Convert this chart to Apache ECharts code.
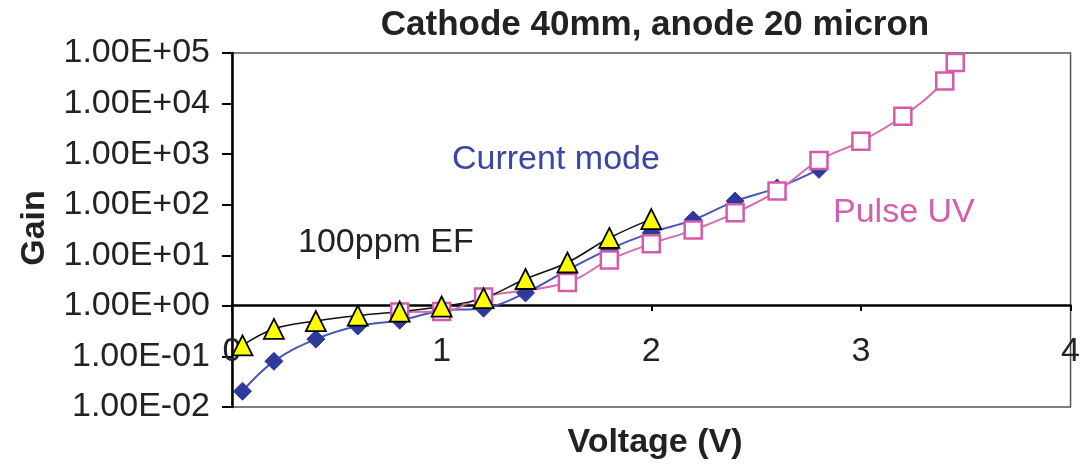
<!DOCTYPE html>
<html>
<head>
<meta charset="utf-8">
<script src="https://cdn.jsdelivr.net/npm/echarts@6/dist/echarts.min.js"></script>
<style>
html,body{margin:0;padding:0;background:#fff;}
#c{width:1083px;height:466px;}
</style>
</head>
<body>
<div id="c"></div>
<script>
// Data
var currentX = [0.05, 0.2, 0.4, 0.6, 0.8, 1.0, 1.2, 1.4, 1.6, 1.8, 2.0, 2.2, 2.4, 2.6, 2.8];
var currentY = [0.0205, 0.08, 0.22, 0.40, 0.52, 0.8, 0.9, 1.8, 5.1, 13.2, 28, 50, 118, 215, 500];

var pulseX = [0.8, 1.0, 1.2, 1.6, 1.8, 2.0, 2.2, 2.4, 2.6, 2.8, 3.0, 3.2, 3.4, 3.45];
var pulseY = [0.76, 0.77, 1.5, 2.9, 8.1, 17, 31.5, 69, 186, 750, 1790, 5600, 28000, 65000];

var efX = [0.05, 0.2, 0.4, 0.6, 0.8, 1.0, 1.2, 1.4, 1.6, 1.8, 2.0];
var efY = [0.165, 0.35, 0.5, 0.64, 0.77, 0.97, 1.42, 3.4, 7.2, 22, 52];

var xTicks = [0, 1, 2, 3, 4];
var yTicks = [0.01, 0.1, 1, 10, 100, 1000, 10000, 100000];

function pairs(xs, ys){ return xs.map(function(x,i){ return [x, ys[i]]; }); }
function sci(v){
  var e = Math.round(Math.log10(v));
  var s = e < 0 ? '-' : '+';
  var a = Math.abs(e);
  return '1.00E' + s + (a < 10 ? '0' + a : a);
}

var FONT = '"Liberation Sans", Arial, sans-serif';
var chart = echarts.init(document.getElementById('c'));
chart.setOption({
  animation: false,
  backgroundColor: '#fff',
  grid: {left: 232, right: 3, top: 53, bottom: 59, show: true, borderColor: '#555', borderWidth: 1.5},
  xAxis: {
    type: 'value', min: xTicks[0], max: xTicks[xTicks.length-1], interval: 1,
    position: 'bottom', offset: -102,
    axisLine: {show: true, lineStyle: {color: '#000', width: 2.5}},
    axisTick: {show: true, inside: false, length: 6, lineStyle: {color: '#000', width: 2}},
    axisLabel: {color: '#222', fontSize: 34, fontFamily: FONT, margin: 30},
    splitLine: {show: false}
  },
  yAxis: {
    type: 'log', logBase: 10, min: yTicks[0], max: yTicks[yTicks.length-1],
    axisLine: {show: true, lineStyle: {color: '#000', width: 2.5}},
    axisTick: {show: true, length: 10, lineStyle: {color: '#000', width: 2}},
    axisLabel: {color: '#222', fontSize: 34, fontFamily: FONT, margin: 22, formatter: sci},
    splitLine: {show: false}
  },
  series: [
    {
      name: 'Current mode', type: 'line', smooth: 0.4,
      data: pairs(currentX, currentY),
      symbol: 'diamond', symbolSize: 18,
      lineStyle: {color: '#4a57b8', width: 2},
      itemStyle: {color: '#2d3a9c', borderColor: '#2d3a9c', borderWidth: 1}
    },
    {
      name: 'Pulse UV', type: 'line', smooth: 0.4,
      data: pairs(pulseX, pulseY),
      symbol: 'rect', symbolSize: 17,
      lineStyle: {color: '#d66aaf', width: 2},
      itemStyle: {color: '#ffffff', borderColor: '#d65aaa', borderWidth: 2.5}
    },
    {
      name: '100ppm EF', type: 'line', smooth: 0.4,
      data: pairs(efX, efY),
      symbol: 'triangle', symbolSize: 20,
      lineStyle: {color: '#111', width: 1.5},
      itemStyle: {color: '#ffff00', borderColor: '#000', borderWidth: 1.8}
    }
  ],
  graphic: [
    {type: 'text', x: 655, y: 25, style: {text: 'Cathode 40mm, anode 20 micron', font: 'bold 35px ' + FONT, fill: '#222', align: 'center', verticalAlign: 'middle'}},
    {type: 'text', x: 655, y: 443, style: {text: 'Voltage (V)', font: 'bold 34px ' + FONT, fill: '#222', align: 'center', verticalAlign: 'middle'}},
    {type: 'text', x: 35, y: 228, rotation: Math.PI/2, style: {text: 'Gain', font: 'bold 34px ' + FONT, fill: '#222', align: 'center', verticalAlign: 'middle'}},
    {type: 'text', x: 452, y: 160, style: {text: 'Current mode', font: '34px ' + FONT, fill: '#3a45a8', verticalAlign: 'middle'}},
    {type: 'text', x: 833, y: 213, style: {text: 'Pulse UV', font: '34px ' + FONT, fill: '#d45db0', verticalAlign: 'middle'}},
    {type: 'text', x: 298, y: 243, style: {text: '100ppm EF', font: '34px ' + FONT, fill: '#222', verticalAlign: 'middle'}}
  ]
});
</script>
</body>
</html>
